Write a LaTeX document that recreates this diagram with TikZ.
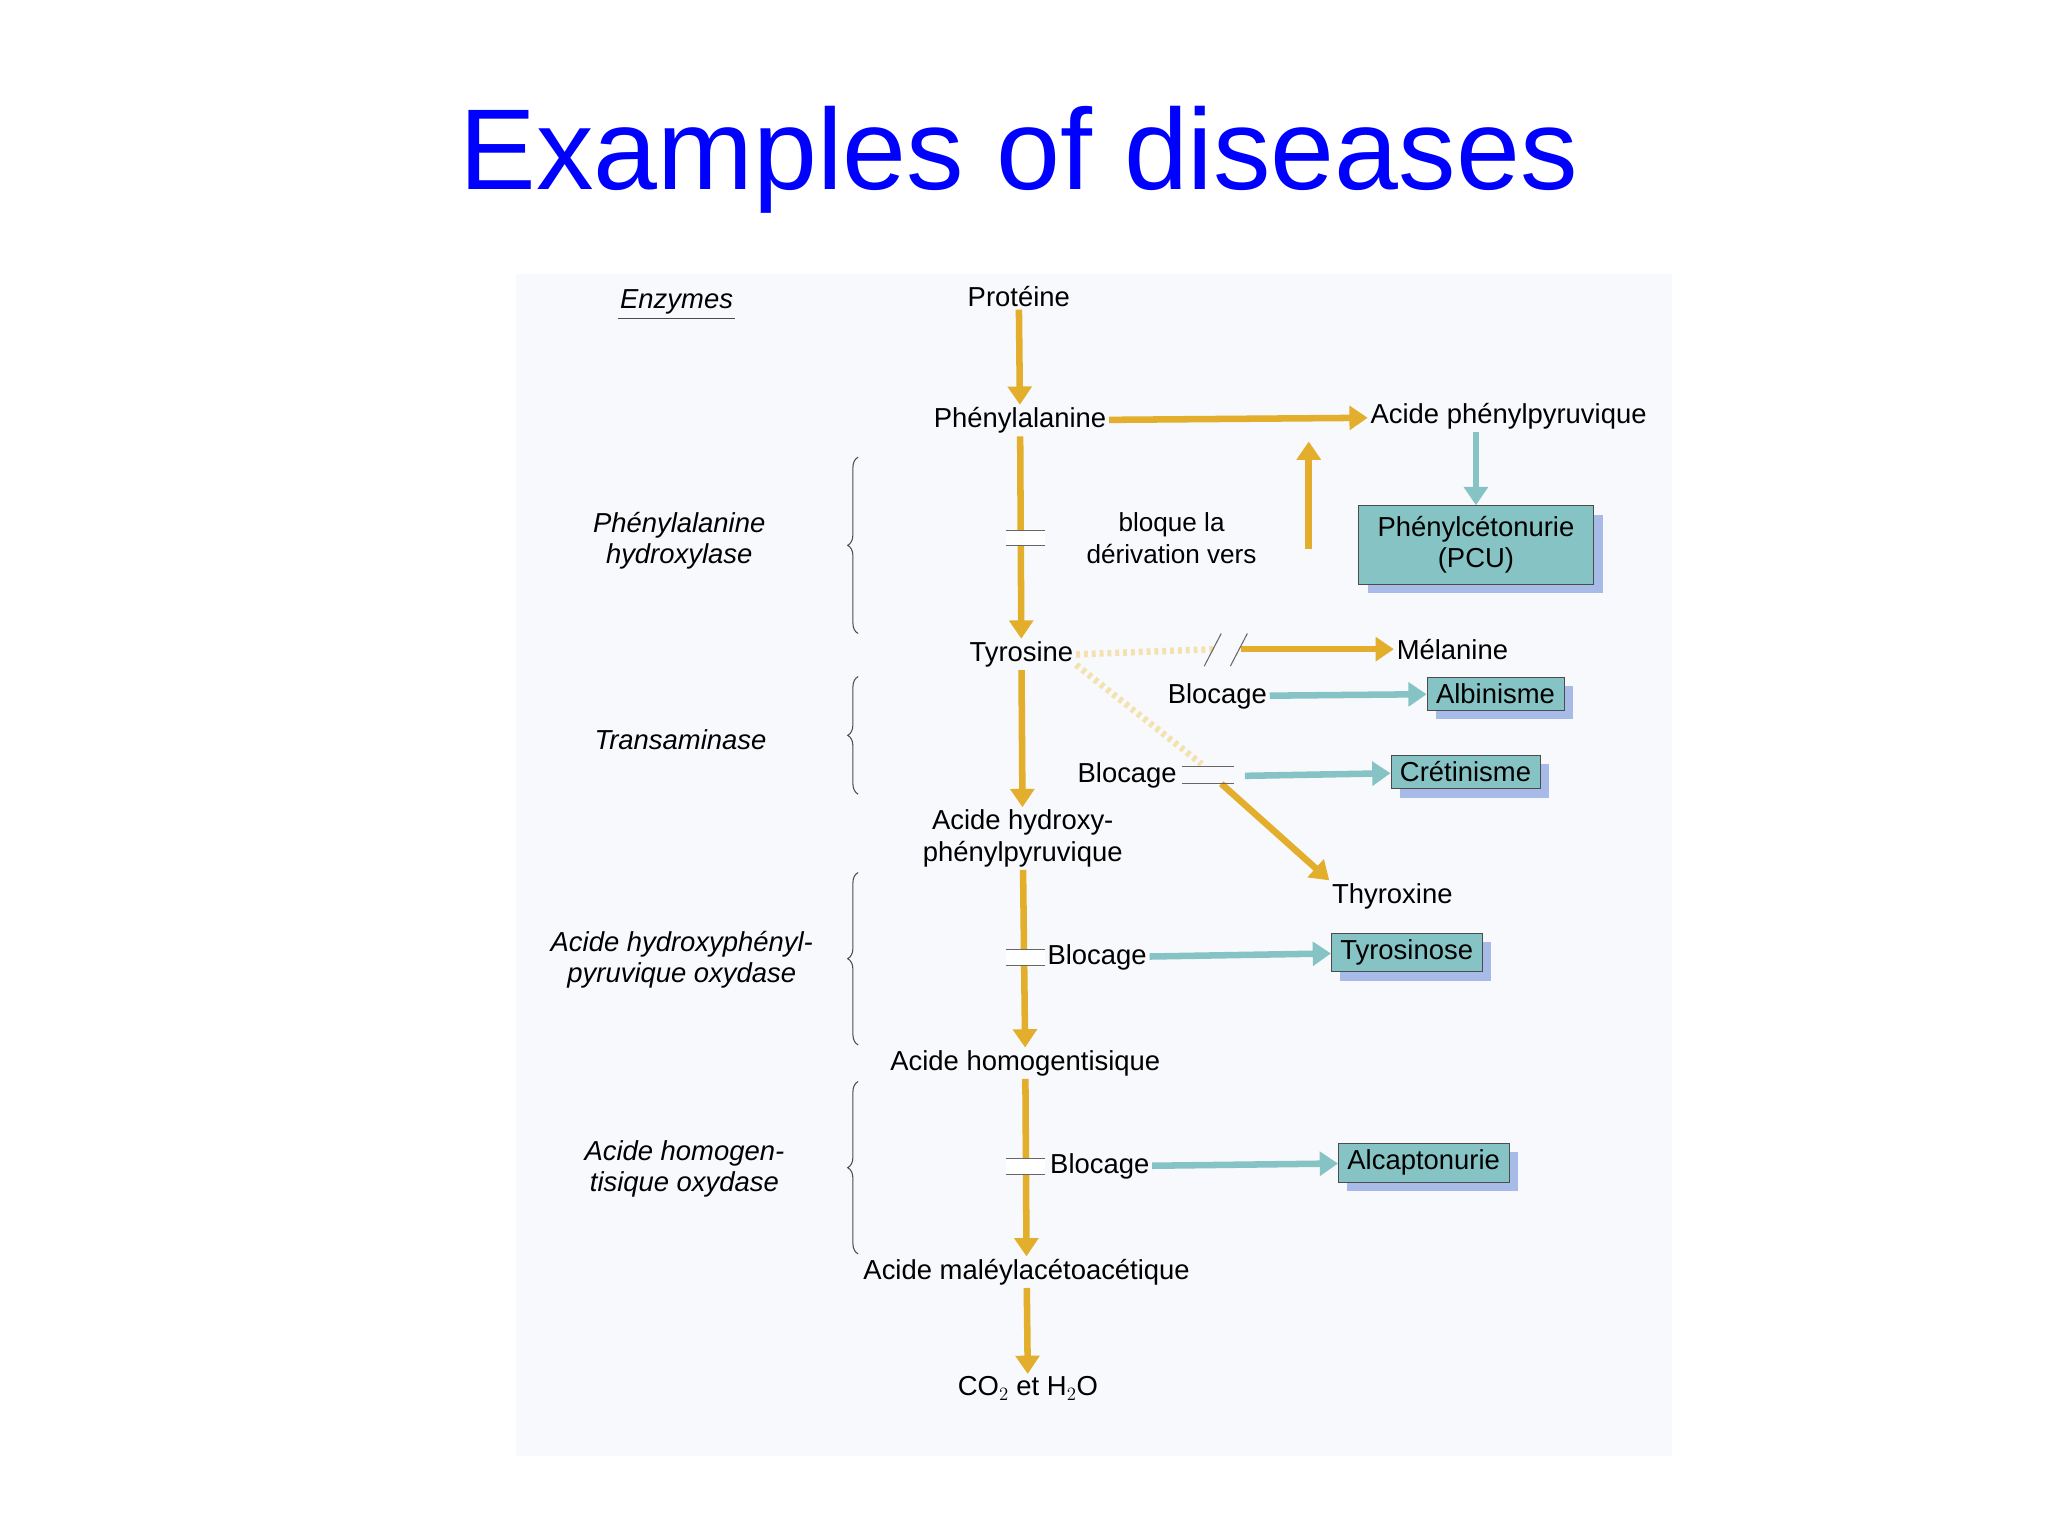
\documentclass[tikz,border=0pt]{standalone}
\usepackage{fontspec}
\setmainfont{Liberation Sans}
\usetikzlibrary{arrows.meta,decorations.pathreplacing,calc,shadows}
\definecolor{gold}{HTML}{E2AE2C}
\definecolor{pale}{HTML}{F3E2B0}
\definecolor{teal}{HTML}{86C3C4}
\definecolor{shadowc}{HTML}{A8BBE8}
\definecolor{bgc}{HTML}{F8F9FC}
\tikzset{
 x=1pt,y=-1pt,
 lab/.style={font=\fontsize{21}{24}\selectfont,align=center,inner sep=2pt},
 enz/.style={font=\fontsize{21}{24}\selectfont\itshape,align=center},
 dbox/.style={draw=black!70,fill=teal,font=\fontsize{21}{24}\selectfont,align=center,inner xsep=7pt,inner ysep=5pt,
   drop shadow={shadow xshift=7pt,shadow yshift=-7pt,fill=shadowc,opacity=1}},
 garr/.style={draw=gold,line width=5pt,-{Triangle[length=14pt,width=18pt]}},
 gline/.style={draw=gold,line width=5pt},
 tarr/.style={draw=teal,line width=5pt,-{Triangle[length=14pt,width=18pt,fill=teal]}},
 brk/.style={draw=black!60,line width=0.8pt},
 br/.style={decorate,decoration={brace,amplitude=8pt},draw=black!70,line width=0.8pt}
}
\begin{document}
\begin{tikzpicture}
\useasboundingbox (0,0) rectangle (1568,1176);
\fill[bgc] (395,210) rectangle (1280,1115);
\node[font=\fontsize{88}{94}\selectfont,text=blue] (title) at (780,122) {Examples of diseases};
% main chain
\node[lab] (prot) at (780,227) {Protéine};
\node[lab] (phe) at (781,322) {Phénylalanine};
\node[lab] (app) at (1155,319) {Acide phénylpyruvique};
\node[lab,font=\fontsize{20}{25}\selectfont] (bloq) at (897,412) {bloque la\\dérivation vers};
\node[dbox,minimum width=180pt,minimum height=60pt] (pcu) at (1130,417) {Phénylcétonurie\\(PCU)};
\node[lab] (tyr) at (782,501) {Tyrosine};
\node[lab] (mel) at (1112,497) {Mélanine};
\node[lab] (bl1) at (932,533) {Blocage};
\node[dbox] (alb) at (1145,531) {Albinisme};
\node[lab] (bl2) at (863,594) {Blocage};
\node[dbox] (cre) at (1122,591) {Crétinisme};
\node[lab] (ahp) at (783,642) {Acide hydroxy-\\phénylpyruvique};
\node[lab] (thy) at (1066,686) {Thyroxine};
\node[lab] (bl3) at (840,733) {Blocage};
\node[dbox] (tys) at (1077,729) {Tyrosinose};
\node[lab] (ahg) at (785,814) {Acide homogentisique};
\node[lab] (bl4) at (842,893) {Blocage};
\node[dbox] (alc) at (1090,890) {Alcaptonurie};
\node[lab] (mal) at (786,974) {Acide maléylacétoacétique};
\node[lab] (co2) at (787,1063) {CO$_2$ et H$_2$O};
% enzymes
\node[enz] (enzt) at (518,231) {Enzymes};
\draw[black!70,line width=0.8pt] (enzt.south west)++(2,0) -- ($(enzt.south east)+(-2,0)$);
\node[enz] (e1) at (520,414) {Phénylalanine\\hydroxylase};
\node[enz] (e2) at (521,566) {Transaminase};
\node[enz] (e3) at (522,735) {Acide hydroxyphényl-\\pyruvique oxydase};
\node[enz] (e4) at (524,895) {Acide homogen-\\tisique oxydase};
\coordinate (b1a) at (657,350); \coordinate (b1b) at (657,485);
\coordinate (b2a) at (657,518); \coordinate (b2b) at (657,608);
\coordinate (b3a) at (657,668); \coordinate (b3b) at (657,800);
\coordinate (b4a) at (657,828); \coordinate (b4b) at (657,960);
\draw[br] (b1b) -- (b1a); \draw[br] (b2b) -- (b2a);
\draw[br] (b3b) -- (b3a); \draw[br] (b4b) -- (b4a);
% vertical arrows
\draw[garr] (prot) -- (phe);
\draw[garr] (phe) -- (tyr);
\draw[garr] (tyr) -- (ahp);
\draw[garr] (ahp) -- (ahg);
\draw[garr] (ahg) -- (mal);
\draw[garr] (mal) -- (co2);
% breaks on vertical arrows
\foreach \y in {412,733,893}{
 \fill[white] (770,\y-6) rectangle (800,\y+6);
 \draw[brk] (770,\y-6) -- (800,\y-6) (770,\y+6) -- (800,\y+6);}
% phe -> acide phenylpyruvique
\draw[garr] (phe) -- (app);
\coordinate (up0) at (1002,420);
\draw[garr] (up0) -- (1002,338);
\draw[tarr] (app.south-|pcu) -- (pcu);
% tyrosine -> melanine
\draw[gline,dashed,pale] (tyr.east) -- (930,497);
\draw[garr] (950,497) -- (mel);
\draw[brk] (922,510) -- (935,485) (942,510) -- (955,485);
% tyrosine -> thyroxine
\coordinate (d1) at (920,585);
\draw[gline,dashed,pale] (tyr.east) ++(0,8) -- (d1);
\draw[garr] (935,600) -- (thy.north west);
\draw[brk] (905,587) -- (945,587) (905,600) -- (945,600);
% blocage arrows
\draw[tarr] (bl1) -- (alb);
\draw[tarr] (bl2.east)++(50,0) -- (cre);
\draw[tarr] (bl3) -- (tys);
\draw[tarr] (bl4) -- (alc);
\end{tikzpicture}
\end{document}
